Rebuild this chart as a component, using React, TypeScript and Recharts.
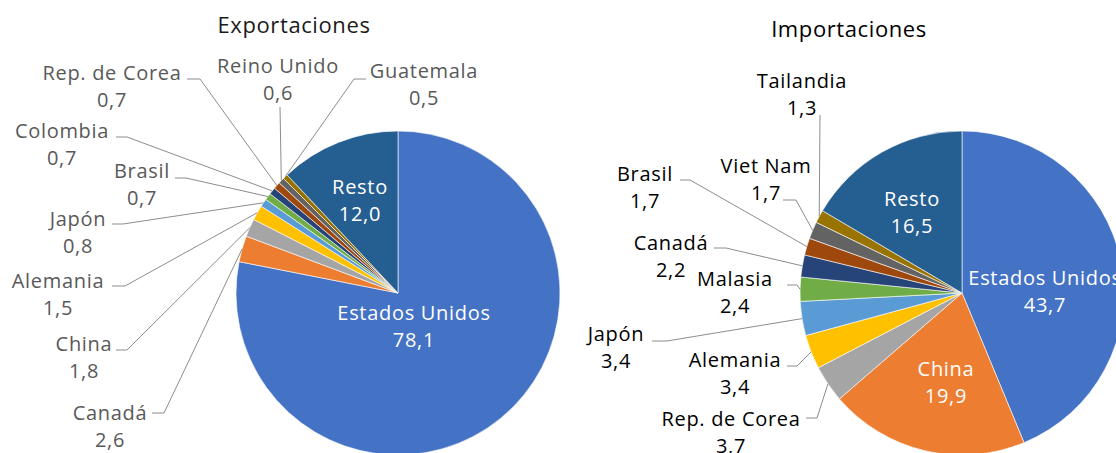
import React from 'react';
import { PieChart, Pie, Cell } from 'recharts';

// ---------- data ----------
const exportCountries = ['Estados Unidos', 'Canadá', 'China', 'Alemania', 'Japón', 'Brasil', 'Colombia', 'Rep. de Corea', 'Reino Unido', 'Guatemala', 'Resto'];
const exportValues = [78.1, 2.6, 1.8, 1.5, 0.8, 0.7, 0.7, 0.7, 0.6, 0.5, 12.0];

const importCountries = ['Estados Unidos', 'China', 'Rep. de Corea', 'Alemania', 'Japón', 'Malasia', 'Canadá', 'Brasil', 'Viet Nam', 'Tailandia', 'Resto'];
const importValues = [43.7, 19.9, 3.7, 3.4, 3.4, 2.4, 2.2, 1.7, 1.7, 1.3, 16.5];

const sliceColors = ['#4472C4', '#ED7D31', '#A5A5A5', '#FFC000', '#5B9BD5', '#70AD47', '#264478', '#9E480E', '#636363', '#997300', '#255E91'];

const titles = ['Exportaciones', 'Importaciones'];

// ---------- layout (label placement, not data) ----------
type LabelPos = { inside?: boolean; tx: number; ty: number; ax?: number; ay?: number; ex?: number; ey?: number };

const exportLabelLayout: LabelPos[] = [
  { inside: true, tx: 414, ty: 312 },
  { tx: 110, ty: 412, ax: 152, ay: 413, ex: 164, ey: 413 },
  { tx: 84, ty: 343, ax: 116, ay: 350, ex: 127, ey: 350 },
  { tx: 58, ty: 280, ax: 112, ay: 286, ex: 125, ey: 286 },
  { tx: 78, ty: 218, ax: 112, ay: 224, ex: 123, ey: 224 },
  { tx: 142, ty: 170, ax: 175, ay: 178, ex: 186, ey: 178 },
  { tx: 62, ty: 130, ax: 116, ay: 137, ex: 127, ey: 137 },
  { tx: 112, ty: 72, ax: 187, ay: 79, ex: 200, ey: 79 },
  { tx: 278, ty: 65, ax: 280, ay: 107, ex: 280, ey: 107 },
  { tx: 424, ty: 70, ax: 366, ay: 79, ex: 354, ey: 79 },
  { inside: true, tx: 360, ty: 186 },
];

const importLabelLayout: LabelPos[] = [
  { inside: true, tx: 1045, ty: 277 },
  { inside: true, tx: 946, ty: 368 },
  { tx: 731, ty: 418, ax: 806, ay: 418, ex: 817, ey: 418 },
  { tx: 735, ty: 359, ax: 787, ay: 366, ex: 797, ey: 366 },
  { tx: 616, ty: 333, ax: 652, ay: 341, ex: 667, ey: 341 },
  { tx: 735, ty: 278, ax: 787, ay: 285, ex: 797, ey: 285 },
  { tx: 671, ty: 242, ax: 714, ay: 248, ex: 726, ey: 248 },
  { tx: 645, ty: 173, ax: 680, ay: 180, ex: 690, ey: 180 },
  { tx: 766, ty: 165, ax: 783, ay: 200, ex: 796, ey: 200 },
  { tx: 802, ty: 80, ax: 820, ay: 115, ex: 820, ey: 115 },
  { inside: true, tx: 912, ty: 198 },
];

const FONT = '"Open Sans", "Noto Sans", sans-serif';
const LABEL_SIZE = 20;
const LINE_GAP = 27;
const RAD = Math.PI / 180;

const fmt = (v: number) => v.toFixed(1).replace('.', ',');

const makeLabel = (names: string[], values: number[], layout: LabelPos[], outsideColor: string, pcx: number, pcy: number) => (props: any) => {
  const { midAngle, outerRadius, index } = props;
  const cx = props.cx ?? pcx;
  const cy = props.cy ?? pcy;
  const L = layout[index];
  if (!L) return null;
  const color = L.inside ? '#FFFFFF' : outsideColor;
  let line = null;
  if (!L.inside) {
    const sx = cx + outerRadius * Math.cos(-midAngle * RAD);
    const sy = cy + outerRadius * Math.sin(-midAngle * RAD);
    line = (
      <polyline
        points={`${sx},${sy} ${L.ex},${L.ey} ${L.ax},${L.ay}`}
        fill="none"
        stroke="#8C8C8C"
        strokeWidth={1}
      />
    );
  }
  return (
    <g key={`lbl-${index}`}>
      {line}
      <text x={L.tx} y={L.ty} textAnchor="middle" dominantBaseline="central" fill={color}
        style={{ fontFamily: FONT, fontSize: LABEL_SIZE, letterSpacing: 0.7 }}>
        {names[index]}
      </text>
      <text x={L.tx} y={L.ty + LINE_GAP} textAnchor="middle" dominantBaseline="central" fill={color}
        style={{ fontFamily: FONT, fontSize: LABEL_SIZE, letterSpacing: 0.7 }}>
        {fmt(values[index])}
      </text>
    </g>
  );
};

const exportData = exportCountries.map((name, i) => ({ name, value: exportValues[i] }));
const importData = importCountries.map((name, i) => ({ name, value: importValues[i] }));

const W = 1116;
const H = 453;
const R = 162;
const CY = 293;
const CX_EXP = 398;
const CX_IMP = 962;

export default function App() {
  return (
    <div style={{ position: 'absolute', left: 0, top: 0, width: W, height: H, overflow: 'hidden', background: '#fff', fontFamily: FONT }}>
      <div style={{ position: 'absolute', left: 194, width: 200, top: 8, textAlign: 'center', fontSize: 22, letterSpacing: 0.6, color: '#1a1a1a', lineHeight: '32px' }}>
        {titles[0]}
      </div>
      <div style={{ position: 'absolute', left: 749, width: 200, top: 12, textAlign: 'center', fontSize: 22, letterSpacing: 0.6, color: '#000', lineHeight: '32px' }}>
        {titles[1]}
      </div>
      <div style={{ position: 'absolute', left: 0, top: 0 }}>
        <PieChart width={W} height={H} margin={{ top: 0, right: 0, bottom: 0, left: 0 }}>
          <Pie
            data={exportData}
            dataKey="value"
            nameKey="name"
            cx={CX_EXP}
            cy={CY}
            outerRadius={R}
            startAngle={90}
            endAngle={-270}
            stroke="#ffffff"
            strokeWidth={0.6}
            labelLine={false}
            label={makeLabel(exportCountries, exportValues, exportLabelLayout, '#595959', CX_EXP, CY)}
            isAnimationActive={false}
          >
            {exportData.map((_, i) => (
              <Cell key={i} fill={sliceColors[i]} />
            ))}
          </Pie>
          <Pie
            data={importData}
            dataKey="value"
            nameKey="name"
            cx={CX_IMP}
            cy={CY}
            outerRadius={R}
            startAngle={90}
            endAngle={-270}
            stroke="#ffffff"
            strokeWidth={0.6}
            labelLine={false}
            label={makeLabel(importCountries, importValues, importLabelLayout, '#000000', CX_IMP, CY)}
            isAnimationActive={false}
          >
            {importData.map((_, i) => (
              <Cell key={i} fill={sliceColors[i]} />
            ))}
          </Pie>
        </PieChart>
      </div>
    </div>
  );
}
